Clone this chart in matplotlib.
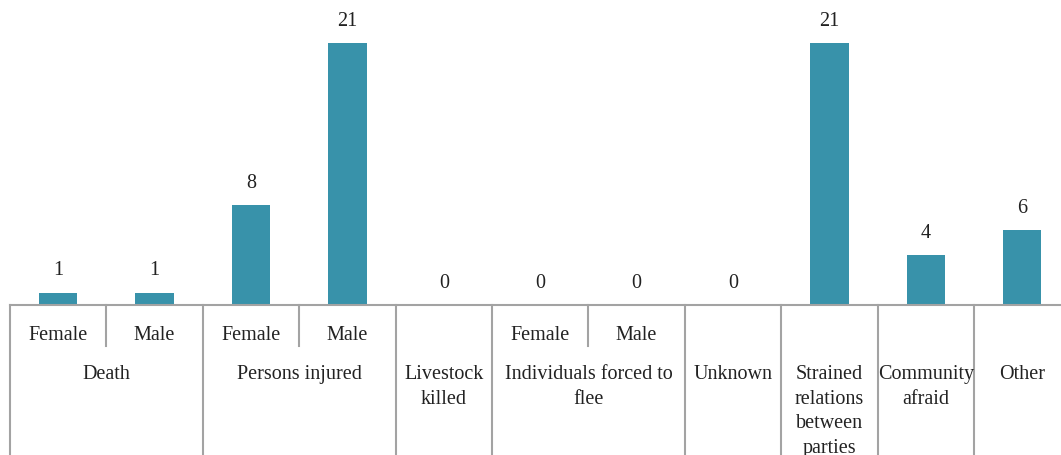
import matplotlib.pyplot as plt
import numpy as np

# one entry per bar
values = [1, 1, 8, 21, 0, 0, 0, 0, 21, 4, 6]
sub_labels = ["Female", "Male", "Female", "Male", "", "Female", "Male", "", "", "", ""]

# top-level categories and how many bars each one spans
groups = ["Death", "Persons injured", "Livestock\nkilled", "Individuals forced to\nflee",
          "Unknown", "Strained\nrelations\nbetween\nparties", "Community\nafraid", "Other"]
group_sizes = [2, 2, 1, 2, 1, 1, 1, 1]

BAR_COLOR = "#3892AA"
LINE_COLOR = "#A3A3A3"
FONT = "Liberation Serif"
FS = 14.5

W, H = 1061, 456
fig = plt.figure(figsize=(W / 100, H / 100), dpi=100)
base_px = 306
ax = fig.add_axes([10 / W, (H - base_px) / H, 1 - 10 / W, base_px / H])

x = np.arange(len(values))
bars = ax.bar(x, values, width=0.4, color=BAR_COLOR)

for b, v in zip(bars, values):
    ax.annotate(f"{v}", xy=(b.get_x() + b.get_width() / 2, v),
                xytext=(0, 16.5), textcoords="offset points",
                ha="center", va="center", fontsize=FS, family=FONT, color="#222222")

slot_px = 96.4
ax.set_xlim(-0.5, -0.5 + (W - 10) / slot_px)
ax.set_ylim(0, base_px / 12.48)

for s in ["top", "right", "left"]:
    ax.spines[s].set_visible(False)
ax.spines["bottom"].set_color(LINE_COLOR)
ax.spines["bottom"].set_linewidth(1.5)
ax.set_xticks([])
ax.set_yticks([])

tr = ax.get_xaxis_transform()
bottom = -(H - base_px) / base_px
sub_bottom = -41 / base_px
row1_y = -29.5 / base_px
row2_y = -59 / base_px

# group separators and labels
start = 0
for name, n in zip(groups, group_sizes):
    ax.plot([start - 0.5, start - 0.5], [0, bottom], color=LINE_COLOR, lw=1.5,
            transform=tr, clip_on=False)
    center = start + (n - 1) / 2
    ax.text(center, row2_y, name, transform=tr, ha="center", va="top",
            fontsize=FS, family=FONT, color="#222222", linespacing=1.4)
    if n > 1:
        for k in range(1, n):
            ax.plot([start + k - 0.5] * 2, [0, sub_bottom], color=LINE_COLOR, lw=1.5,
                    transform=tr, clip_on=False)
    start += n
ax.plot([start - 0.5, start - 0.5], [0, bottom], color=LINE_COLOR, lw=1.5,
        transform=tr, clip_on=False)

for i, lab in enumerate(sub_labels):
    if lab:
        ax.text(i, row1_y, lab, transform=tr, ha="center", va="center",
                fontsize=FS, family=FONT, color="#222222")

fig.savefig("out.png", dpi=100)
